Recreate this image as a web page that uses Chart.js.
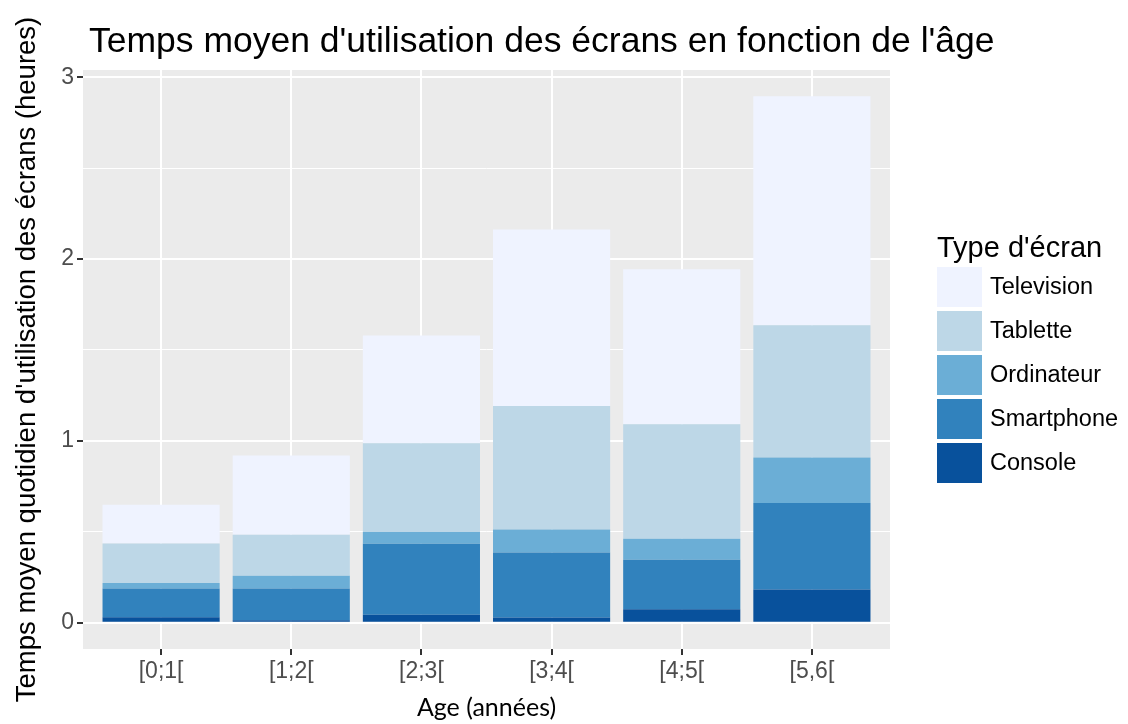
<!DOCTYPE html>
<html>
<head>
<meta charset="utf-8">
<title>Temps moyen d'utilisation des écrans</title>
<script src="https://cdn.jsdelivr.net/npm/chart.js@4.4.1/dist/chart.umd.min.js"></script>
<style>
  html, body { margin: 0; padding: 0; background: #fff; }
  #wrap { position: relative; width: 1128px; height: 724px; }
</style>
</head>
<body>
<div id="wrap"><canvas id="myChart" width="1128" height="724"></canvas></div>
<script>
'use strict';

// values (hours per day, per type of screen)
const ageGroups = ['[0;1[', '[1;2[', '[2;3[', '[3;4[', '[4;5[', '[5,6['];
const consoleHours    = [0.030, 0.013, 0.044, 0.028, 0.074, 0.182];
const smartphoneHours = [0.158, 0.175, 0.390, 0.358, 0.272, 0.476];
const ordinateurHours = [0.030, 0.070, 0.065, 0.126, 0.116, 0.250];
const tabletteHours   = [0.217, 0.225, 0.488, 0.680, 0.630, 0.728];
const televisionHours = [0.213, 0.437, 0.593, 0.970, 0.852, 1.259];
const yTicks = [0, 0.5, 1, 1.5, 2, 2.5, 3];

const FONT = '"Liberation Sans", Arial, sans-serif';

// bottom of the stack first
const series = [
  { label: 'Console',    data: consoleHours,    color: '#08519c' },
  { label: 'Smartphone', data: smartphoneHours, color: '#3182bd' },
  { label: 'Ordinateur', data: ordinateurHours, color: '#6baed6' },
  { label: 'Tablette',   data: tabletteHours,   color: '#bdd7e7' },
  { label: 'Television', data: televisionHours, color: '#eff3ff' }
];

function isMajor(v) {
  return Math.abs(v - Math.round(v)) < 1e-9;
}

// grey ggplot panel behind the grid
const panelBg = {
  id: 'panelBg',
  beforeDraw(chart) {
    const {ctx, chartArea: a} = chart;
    ctx.save();
    ctx.fillStyle = '#ebebeb';
    ctx.fillRect(a.left, a.top, a.right - a.left, a.bottom - a.top);
    ctx.restore();
  }
};

// title + legend on the right
const extras = {
  id: 'extras',
  afterDraw(chart) {
    const ctx = chart.ctx;
    ctx.save();
    ctx.fillStyle = '#000';
    ctx.textBaseline = 'alphabetic';
    ctx.textAlign = 'left';
    ctx.font = '35.5px ' + FONT;
    ctx.fillText("Temps moyen d'utilisation des écrans en fonction de l'âge", 89, 52);

    ctx.font = '29px ' + FONT;
    ctx.fillText("Type d'écran", 937, 257);

    const ds = chart.data.datasets.slice().reverse();
    ctx.font = '23.5px ' + FONT;
    ctx.textBaseline = 'middle';
    ds.forEach((d, k) => {
      const top = 267 + k * 44;
      ctx.fillStyle = d.backgroundColor;
      ctx.fillRect(937, top, 45, 40);
      ctx.fillStyle = '#000';
      ctx.fillText(d.label, 990, top + 21);
    });
    ctx.restore();
  }
};

let ctxChart = document.getElementById('myChart');
let chart = new Chart(ctxChart, {
  type: 'bar',
  data: {
    datasets: series.map(s => ({
      label: s.label,
      data: s.data.map((v, i) => ({ x: i + 1, y: v })),
      backgroundColor: s.color,
      borderWidth: 0,
      barPercentage: 0.9,
      categoryPercentage: 1.0
    }))
  },
  options: {
    responsive: false,
    animation: false,
    devicePixelRatio: 1,
    layout: { padding: { left: 0, top: 70, right: 238, bottom: 0 } },
    plugins: {
      legend: { display: false },
      tooltip: { enabled: false }
    },
    scales: {
      x: {
        type: 'linear',
        stacked: true,
        offset: false,
        min: 0.4,
        max: 6.6,
        afterBuildTicks: scale => {
          scale.ticks = ageGroups.map((_, i) => ({ value: i + 1 }));
        },
        afterFit: scale => { scale.height = 75; },
        ticks: {
          callback: v => ageGroups[v - 1],
          color: '#4d4d4d',
          font: { family: FONT, size: 23 },
          padding: 3,
          maxRotation: 0,
          autoSkip: false
        },
        grid: {
          offset: false,
          color: '#ffffff',
          lineWidth: 2,
          tickColor: '#333333',
          tickLength: 6
        },
        border: { display: false },
        title: {
          display: true,
          text: 'Age (années)',
          color: '#000',
          font: { family: 'Lato, "Open Sans", sans-serif', size: 25 },
          padding: { top: 0, bottom: 1 }
        }
      },
      y: {
        stacked: true,
        min: -0.145,
        max: 3.04,
        afterBuildTicks: scale => {
          scale.ticks = yTicks.map(v => ({ value: v }));
        },
        afterFit: scale => { scale.width = 83; },
        ticks: {
          callback: v => (isMajor(v) ? String(v) : ''),
          color: '#4d4d4d',
          font: { family: FONT, size: 23 },
          padding: 3
        },
        grid: {
          color: '#ffffff',
          lineWidth: c => (c.tick && isMajor(c.tick.value) ? 2 : 1),
          tickColor: c => (c.tick && isMajor(c.tick.value) ? '#333333' : 'rgba(0,0,0,0)'),
          tickLength: 6
        },
        border: { display: false },
        title: {
          display: true,
          text: "Temps moyen quotidien d'utilisation des écrans (heures)",
          color: '#000',
          font: { family: FONT, size: 27.5 },
          padding: { top: 11, bottom: 0 }
        }
      }
    }
  },
  plugins: [panelBg, extras]
});
</script>
</body>
</html>
